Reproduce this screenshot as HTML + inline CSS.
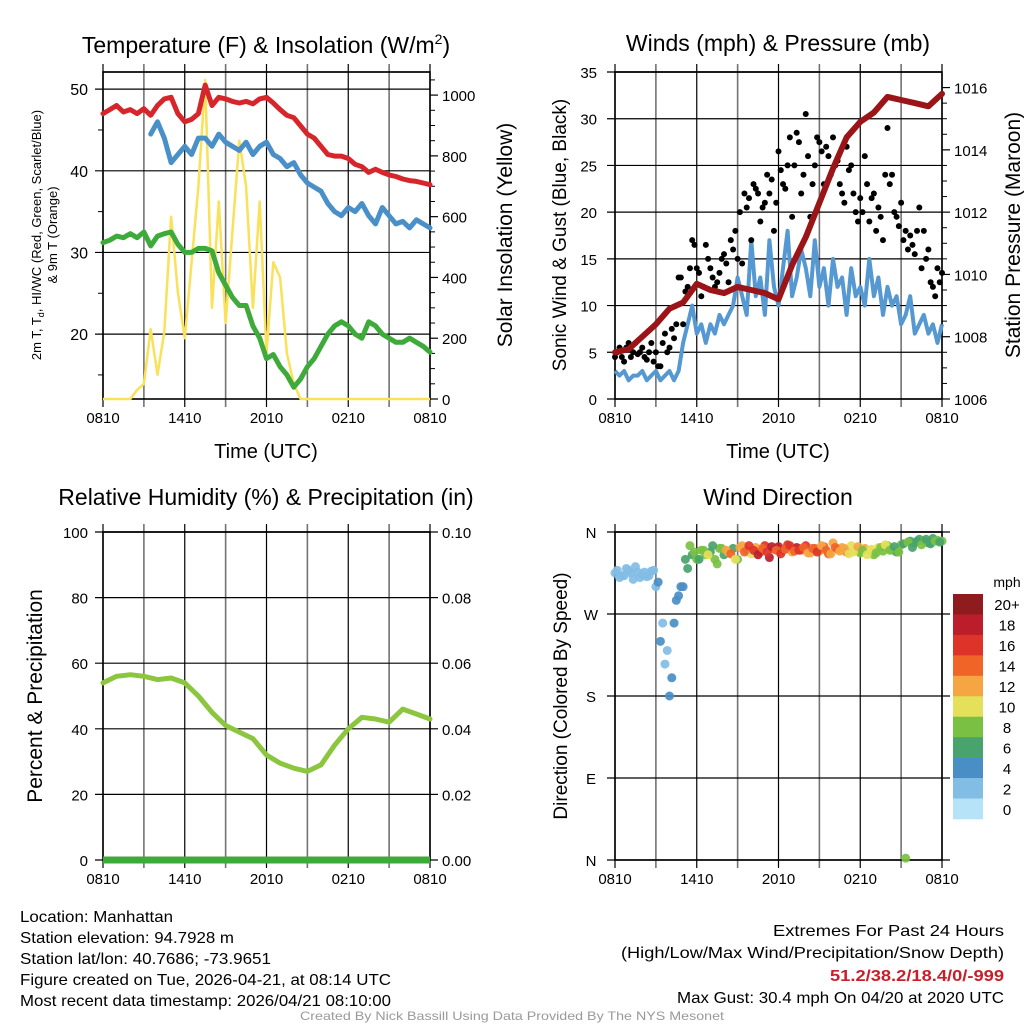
<!DOCTYPE html>
<html><head><meta charset="utf-8"><style>
html,body{margin:0;padding:0;background:#fff;}
svg{display:block;font-family:"Liberation Sans",Arial,sans-serif;}
</style></head><body>
<svg id="fig" width="1024" height="1024" viewBox="0 0 1024 1024" xmlns="http://www.w3.org/2000/svg">
<g id="g1"></g>
<g id="g2"></g>
<g id="g3"></g>
<g id="g4"></g>
<g font-size="16" fill="#000">
<text x="20" y="922" textLength="153" lengthAdjust="spacingAndGlyphs">Location: Manhattan</text>
<text x="20" y="943" textLength="214" lengthAdjust="spacingAndGlyphs">Station elevation: 94.7928 m</text>
<text x="20" y="964" textLength="251" lengthAdjust="spacingAndGlyphs">Station lat/lon: 40.7686; -73.9651</text>
<text x="20" y="985" textLength="371" lengthAdjust="spacingAndGlyphs">Figure created on Tue, 2026-04-21, at 08:14 UTC</text>
<text x="20" y="1006" textLength="371" lengthAdjust="spacingAndGlyphs">Most recent data timestamp: 2026/04/21 08:10:00</text>
</g>
<g font-size="16" text-anchor="end">
<text x="1004" y="936" textLength="231" lengthAdjust="spacingAndGlyphs">Extremes For Past 24 Hours</text>
<text x="1004" y="958" textLength="383" lengthAdjust="spacingAndGlyphs">(High/Low/Max Wind/Precipitation/Snow Depth)</text>
<text x="1004" y="981" fill="#c8202a" font-weight="bold" textLength="174" lengthAdjust="spacingAndGlyphs">51.2/38.2/18.4/0/-999</text>
<text x="1004" y="1003" textLength="327" lengthAdjust="spacingAndGlyphs">Max Gust: 30.4 mph On 04/20 at 2020 UTC</text>
</g>
<text x="512" y="1020" font-size="12" fill="#999" text-anchor="middle" textLength="424" lengthAdjust="spacingAndGlyphs">Created By Nick Bassill Using Data Provided By The NYS Mesonet</text>
</svg>
<script>
// ---- data (hours since 0810 UTC) ----
const timeTicks = ["0810","1410","2010","0210","0810"];
const tempRed = [47,47.5,48,47.2,47.5,47,47.6,46.8,48,48.8,49,47,46,46.3,47,50.5,48,49,48.8,48.5,48.3,48.5,48.2,48.8,49,48.3,47.5,46.8,46.5,45.5,44.5,44,43,42,41.8,41.8,41.5,40.8,40.5,39.8,40.2,39.8,39.5,39.3,39,38.8,38.7,38.5,38.3];
const tempBlue = [46.5,null,null,null,null,null,null,44.5,46,44,41,42,43,42,44,44,43,44.5,43.5,43,42.5,43.5,42,43,43.5,42,41.5,40.5,41,39.5,38.5,38,37.5,36,35,34.5,35.5,35,36,34.5,33.5,35.5,34.5,33.5,33.8,33,34,33.5,33];
const tempGreen = [31.2,31.5,32,31.8,32.3,31.8,32.5,30.8,32,32.3,32.5,31,30,30,30.5,30.5,30.2,27.5,26,24.5,23.5,23.5,21,19.5,17,17.5,16,15,13.5,14.5,16,17,18.5,20,21,21.5,21,20,19.5,21.5,21,20,19.5,19,19,19.5,19,18.5,17.8];
const solar = [0,0,0,0,0,30,50,230,80,220,600,350,200,450,700,1050,300,650,250,550,850,700,300,650,150,450,400,150,50,0,0,0,0,0,0,0,0,0,0,0,0,0,0,0,0,0,0,0,0];
const windSust = [3,2.5,3,2,2.5,2.5,3,2,2.5,3,2,2.5,3,2,3,6,8,10,7,8,6,8,7,9,8,9,10,13,11,9,17,11,13,9,17,12,10,14,18,11,13,16,14,11,17,12,14,10,15,12,13,9,14,11,12,10,15,11,13,9,12,10,11,8,9,11,7,8,9,7,8,6,8];
const windGust = [4.5,5.5,4,6,5,4.8,5.5,4.2,6,5,3.5,7,5.5,6.5,13,8,12,17,14,11,16.5,14,12,13.5,15.5,12.5,16,15,14.5,20.5,17,22.5,19,21,22,18,26.5,23,25,19.5,28.5,22,30.5,19.5,25,27.5,23,26,28,25.5,22,27,25,20,21.5,26,19,22,20.5,17,29,24,19.5,21,18,17.5,15.5,20.5,18,16,12,14,13.5];
const windGustB = [5,4.5,5.5,4.5,6,5,4.5,5,4,3.5,6,5,7.5,8,13,11.5,14,16.5,13.5,12,15,13,12.5,15,14.5,17,18,20,22,21.5,23,22,20.5,24,23.5,21,24.5,22.5,28,25,27.5,24,26,23,28,26.5,27,24,25,23,21,24.5,22,19,20,23,21.5,18,19.5,24,23,20,18.5,17,16,16.5,18,14,15,12.5,11,12.5];
const pressure = [1007.5,1007.6,1008,1008.4,1008.9,1009.1,1009.7,1009.5,1009.4,1009.6,1009.5,1009.4,1009.2,1010.3,1011.2,1012.3,1013.4,1014.4,1014.9,1015.2,1015.7,1015.6,1015.5,1015.4,1015.8];
const rh = [54,56,56.5,56,55,55.5,54,50,45,41,39,37,32,29.5,28,27,29,35,40,43.5,43,42,46,44.5,43];
const precip = [0,0,0,0,0,0,0,0,0,0,0,0,0,0,0,0,0,0,0,0,0,0,0,0,0];
const windDir = [315,310,312,318,308,316,313,311,317,300,240,215,180,260,290,300,320,335,330,340,335,338,330,342,335,338,342,330,345,340,336,343,338,345,332,341,344,340,346,338,343,340,345,337,342,339,344,336,348,341,343,338,345,340,337,342,340,335,343,339,345,340,338,346,2,350,348,352,350,348,353,351,350];
const windSpd = [2,2,3,2,2,3,2,2,3,2,4,2,4,4,4,5,6,7,8,9,8,7,8,9,7,10,6,8,12,14,10,13,15,16,19,14,18,16,17,13,18,15,16,12,14,13,15,14,13,15,12,14,11,10,9,12,11,8,10,9,8,9,7,8,8,6,7,6,8,7,6,8,8];
const windDirB = [318,312,320,315,322,310,316,312,318,305,260,230,200,285,300,330,345,338,330,340,335,345,325,342,340,336,330,343,338,345,340,335,342,338,344,340,336,341,345,339,340,343,337,342,338,345,340,336,343,339,342,336,338,344,340,335,341,337,343,346,340,344,338,347,349,343,350,346,352,347,350,349];
const windSpdB = [2,3,2,2,3,2,2,3,2,4,2,2,4,4,5,6,8,9,7,8,10,6,9,8,12,14,11,13,15,17,16,18,14,16,19,15,17,14,16,15,17,14,13,15,16,12,14,13,15,12,13,11,10,12,9,11,10,8,9,10,8,7,9,6,8,7,6,8,7,6,8,7];
const cbLabels = ["20+","18","16","14","12","10","8","6","4","2","0"];
const cbColors = ["#8e1b1e","#bb1e2a","#dd3329","#f06428","#f6a543","#e5e05a","#7ac143","#48a36c","#4a8ec6","#82bde5","#b6e3f7"];

const NS="http://www.w3.org/2000/svg";
function mk(parent,tag,attrs){const e=document.createElementNS(NS,tag);for(const k in attrs)e.setAttribute(k,attrs[k]);parent.appendChild(e);return e;}
function txt(parent,x,y,s,size,anchor,rot){const e=mk(parent,"text",{x:x,y:y,"font-size":size,"text-anchor":anchor||"middle"});if(rot)e.setAttribute("transform","rotate(-90 "+x+" "+y+")");e.textContent=s;return e;}
function linScale(d0,d1,r0,r1){return v=>r0+(v-d0)/(d1-d0)*(r1-r0);}
function pathOf(arr,step,xs,ys){let d="",pen=false;arr.forEach((v,i)=>{if(v===null){pen=false;return;}d+=(pen?"L":"M")+xs(i*step).toFixed(1)+","+ys(v).toFixed(1);pen=true;});return d;}

function frame(g,x0,x1,y0,y1,yTicks,ys,right,minorL,minorR){
  const xs=linScale(0,24,x0,x1);
  for(let h=0;h<=24;h+=3){const x=xs(h);const l=mk(g,"line",{x1:x,x2:x,y1:y0-8,y2:y1+8,stroke:"#000","stroke-width":(h%6==0?1.2:1.6),"stroke-opacity":(h%6==0?1:0.55)});
    
    }
  yTicks.forEach(v=>{const y=ys(v);const l=mk(g,"line",{x1:x0-8,x2:x1+(right?0:8),y1:y,y2:y,stroke:"#000","stroke-width":1.2});
    
    });
  (minorL||[]).forEach(v=>{const y=ys(v);mk(g,"line",{x1:x0-5,x2:x0,y1:y,y2:y,stroke:"#000","stroke-width":1});});
  if(right){right.ticks.forEach(v=>{const y=right.s(v);mk(g,"line",{x1:x1,x2:x1+8,y1:y,y2:y,stroke:"#000","stroke-width":1.2});});
    (minorR||[]).forEach(v=>{const y=right.s(v);mk(g,"line",{x1:x1,x2:x1+5,y1:y,y2:y,stroke:"#000","stroke-width":1});});}
  mk(g,"line",{x1:x0,x2:x1,y1:y0,y2:y0,stroke:"#000","stroke-width":1.2});
  const b=mk(g,"rect",{x:x0,y:y0,width:x1-x0,height:y1-y0,fill:"none",stroke:"#000","stroke-width":1.6});
  
  
  timeTicks.forEach((s,i)=>{const t=txt(g,xs(i*6),y1+24,s,15);
    
    });
  return xs;
}

// ---------- Panel 1 ----------
(function(){
  const g=document.getElementById("g1");
  const x0=103,x1=430,y0=72,y1=399;
  const ys=linScale(12.05,52.1,y1,y0), ysr=linScale(0,1076,y1,y0);
  const rt=[0,200,400,600,800,1000];const mr=[];for(let v=50;v<1076;v+=50)if(v%200)mr.push(v);
  const xs=frame(g,x0,x1,y0,y1,[20,30,40,50],ys,{ticks:rt,s:ysr},[15,25,35,45],mr);
  [20,30,40,50].forEach(v=>{const t=txt(g,88,ys(v)+6,String(v),16,"end");});
  rt.forEach(v=>{const t=txt(g,442,ysr(v)+6,String(v),15,"start");});
  const s1=mk(g,"path",{d:pathOf(solar,0.5,xs,ysr),fill:"none",stroke:"#f9e15a","stroke-width":2.5,"stroke-linejoin":"round"});
  
  
  [[tempGreen,"#3daa3a","dewpoint-line"],[tempBlue,"#4a90c8","wind-chill-line"],[tempRed,"#d7262b","temperature-line"]].forEach(([a,c,n])=>{
    const p=mk(g,"path",{d:pathOf(a,0.5,xs,ys),fill:"none",stroke:c,"stroke-width":5,"stroke-linejoin":"round","stroke-linecap":"round"});
    
    });
  const t=mk(g,"text",{x:266,y:53,"font-size":23,"text-anchor":"middle"});
  t.innerHTML='Temperature (F) &amp; Insolation (W/m<tspan dy="-9" font-size="14">2</tspan><tspan dy="9">)</tspan>';
  
  let a=txt(g,266,458,"Time (UTC)",20);
  a=mk(g,"text",{x:41,y:235,"font-size":13,"text-anchor":"middle",transform:"rotate(-90 41 235)"});
  a.innerHTML='2m T, T<tspan dy="3" font-size="9">d</tspan><tspan dy="-3">, HI/WC (Red, Green, Scarlet/Blue)</tspan>';
  
  a=txt(g,57,235,"& 9m T (Orange)",13,"middle",true);
  a=txt(g,512,235,"Solar Insolation (Yellow)",21,"middle",true);
})();

// ---------- Panel 2 ----------
(function(){
  const g=document.getElementById("g2");
  const x0=615,x1=942,y0=72,y1=399;
  const ys=linScale(0,35,y1,y0), ysr=linScale(1006,1016.5,y1,y0);
  const lt=[0,5,10,15,20,25,30,35], rt=[1006,1008,1010,1012,1014,1016];
  const mr=[];for(let v=1006.5;v<1016.5;v+=0.5)if(v%2)mr.push(v);
  const xs=frame(g,x0,x1,y0,y1,lt,ys,{ticks:rt,s:ysr},[],mr);
  lt.forEach(v=>{const t=txt(g,597,ys(v)+6,String(v),15,"end");});
  rt.forEach(v=>{const t=txt(g,954,ysr(v)+6,String(v),15,"start");});
  const w=mk(g,"path",{d:pathOf(windSust,1/3,xs,ys),fill:"none",stroke:"#5598d2","stroke-width":4,"stroke-linejoin":"round"});
  
  windGust.forEach((v,i)=>{const c=mk(g,"circle",{cx:xs(i/3),cy:ys(v),r:3,fill:"#000"});
    
    });
  windGustB.forEach((v,i)=>{const c=mk(g,"circle",{cx:xs((i+0.5)/3),cy:ys(v),r:3,fill:"#000"});
    
    });
  const p=mk(g,"path",{d:pathOf(pressure,1,xs,ysr),fill:"none",stroke:"#9b1518","stroke-width":6,"stroke-linejoin":"round","stroke-linecap":"round"});
  
  let a=txt(g,778,51,"Winds (mph) & Pressure (mb)",23);
  a=txt(g,778,458,"Time (UTC)",20);
  a=txt(g,566,235,"Sonic Wind & Gust (Blue, Black)",19,"middle",true);
  a=txt(g,1020,235,"Station Pressure (Maroon)",21,"middle",true);
})();

// ---------- Panel 3 ----------
(function(){
  const g=document.getElementById("g3");
  const x0=103,x1=430,y0=532,y1=860;
  const ys=linScale(0,100,y1,y0), ysr=linScale(0,0.1,y1,y0);
  const lt=[0,20,40,60,80,100], rt=[0,0.02,0.04,0.06,0.08,0.10];
  const xs=frame(g,x0,x1,y0,y1,lt,ys,{ticks:rt,s:ysr},[],[]);
  lt.forEach(v=>{const t=txt(g,88,ys(v)+6,String(v),15,"end");});
  rt.forEach(v=>{const t=txt(g,442,ysr(v)+6,v.toFixed(2),15,"start");});
  const p=mk(g,"path",{d:pathOf(precip,1,xs,ysr),fill:"none",stroke:"#3daa3a","stroke-width":7});
  
  const r=mk(g,"path",{d:pathOf(rh,1,xs,ys),fill:"none",stroke:"#8cc63f","stroke-width":5,"stroke-linejoin":"round","stroke-linecap":"round"});
  
  let a=txt(g,266,505,"Relative Humidity (%) & Precipitation (in)",23);
  a=txt(g,42,696,"Percent & Precipitation",21,"middle",true);
})();

// ---------- Panel 4 ----------
(function(){
  const g=document.getElementById("g4");
  const x0=615,x1=942,y0=532,y1=860;
  const ys=linScale(0,360,y1,y0);
  const lt=[0,90,180,270,360], ln=["N","E","S","W","N"];
  const xs=frame(g,x0,x1,y0,y1,lt,ys,null,[],[]);
  lt.forEach((v,i)=>{const t=txt(g,591,ys(v)+6,ln[i],15,"middle");});
  function col(s){let k=Math.min(10,Math.floor(s/2));return cbColors[10-k];}
  windDir.forEach((d,i)=>{const c=mk(g,"circle",{cx:xs(i/3),cy:ys(d),r:4.5,fill:col(windSpd[i]),"fill-opacity":0.92});
    
    });
  windDirB.forEach((d,i)=>{const c=mk(g,"circle",{cx:xs((i+0.5)/3),cy:ys(d),r:4.5,fill:col(windSpdB[i]),"fill-opacity":0.92});
    
    });
  let a=txt(g,778,505,"Wind Direction",23);
  a=txt(g,567,696,"Direction (Colored By Speed)",19,"middle",true);
  const cb=mk(g,"g",{});
  
  
  const bh=(819-594)/cbColors.length;
  cbColors.forEach((c,i)=>{const r=mk(cb,"rect",{x:953,y:594+i*bh,width:30,height:bh+0.3,fill:c});
    
    
    const t=txt(cb,1007,594+i*bh+bh/2+6,cbLabels[i],15,"middle");
    
    });
  a=txt(cb,1007,587,"mph",14,"middle");
})();
</script>
</body></html>
